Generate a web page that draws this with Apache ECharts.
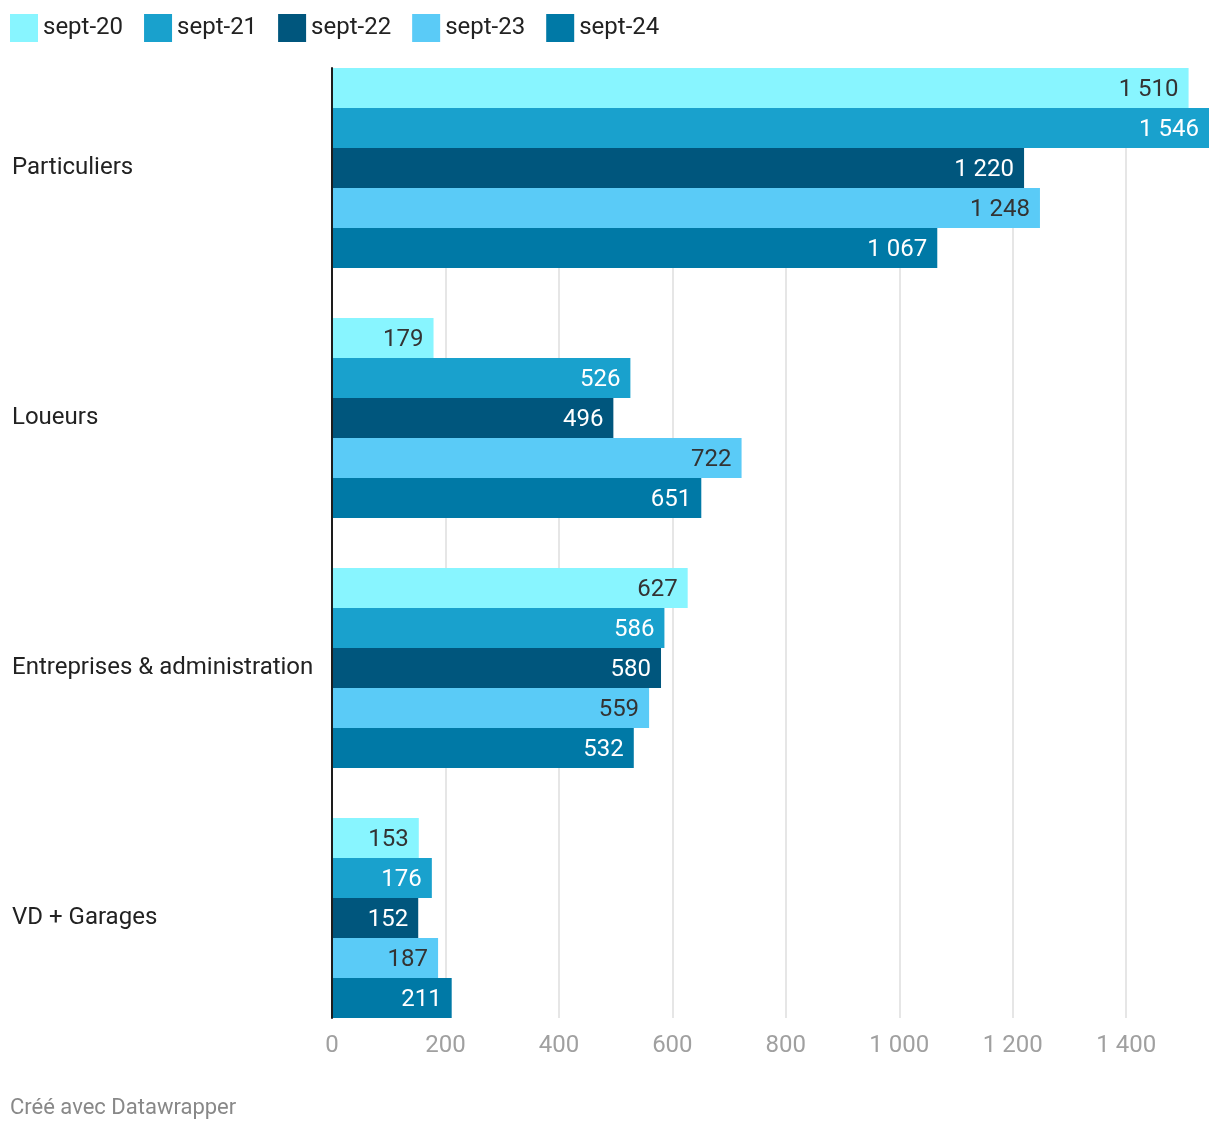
<!DOCTYPE html>
<html><head><meta charset="utf-8">
<script src="https://cdn.jsdelivr.net/npm/echarts@6/dist/echarts.min.js"></script>
<style>html,body{margin:0;padding:0;background:#fff}#c{width:1220px;height:1132px}</style>
</head><body><div id="c"></div>
<script>
const categories = ['Particuliers', 'Loueurs', 'Entreprises & administration', 'VD + Garages'];
const seriesNames = ['sept-20', 'sept-21', 'sept-22', 'sept-23', 'sept-24'];
const sept20 = [1510, 179, 627, 153];
const sept21 = [1546, 526, 586, 176];
const sept22 = [1220, 496, 580, 152];
const sept23 = [1248, 722, 559, 187];
const sept24 = [1067, 651, 532, 211];
const colors = ['#88f5ff', '#19a1cd', '#00567d', '#5acbf7', '#0079a6'];
const labelColors = ['#333333', '#ffffff', '#ffffff', '#333333', '#ffffff'];
const allValues = [sept20, sept21, sept22, sept23, sept24];

const fmt = v => String(v).replace(/\B(?=(\d{3})+(?!\d))/g, ' ');
const xMax = Math.max(...allValues.flat());
const FONT = 'Roboto';

const chart = echarts.init(document.getElementById('c'));
chart.setOption({
  animation: false,
  textStyle: { fontFamily: FONT },
  title: {
    text: 'Créé avec Datawrapper', left: 5, top: 1092,
    textStyle: { color: '#888888', fontSize: 22, fontWeight: 'normal', fontFamily: FONT }
  },
  legend: {
    top: 9, left: 5, itemWidth: 28, itemHeight: 28, itemGap: 21,
    icon: 'rect',
    textStyle: { fontSize: 24, color: '#222222', fontFamily: FONT },
    data: seriesNames
  },
  grid: [
    { left: 332, right: 11, top: 68, height: 950 },
    { left: 332, right: 11, top: 43, height: 1000 }
  ],
  xAxis: [
    {
      gridIndex: 0, type: 'value', min: 0, max: xMax, interval: 200,
      axisLine: { show: false }, axisTick: { show: false },
      splitLine: { show: true, showMaxLine: false, lineStyle: { color: '#e6e6e6', width: 2 } },
      axisLabel: { color: '#a0a0a0', fontSize: 24, margin: 16, showMaxLabel: false,
        formatter: v => (v % 200 === 0 ? fmt(v) : '') }
    },
    {
      gridIndex: 1, type: 'value', min: 0, max: xMax,
      show: false
    }
  ],
  yAxis: [
    {
      gridIndex: 0, type: 'category', data: [''], z: 10,
      axisLine: { show: true, lineStyle: { color: '#1d1d1d', width: 2 } },
      axisTick: { show: false }, axisLabel: { show: false }, splitLine: { show: false }
    },
    {
      gridIndex: 1, type: 'category', data: categories, inverse: true,
      axisLine: { show: false }, axisTick: { show: false },
      axisLabel: { color: '#222222', fontSize: 24, align: 'left', margin: 320, fontFamily: FONT,
        lineHeight: 24, padding: [6, 0, 0, 0] }
    }
  ],
  series: seriesNames.map((name, i) => ({
    name, type: 'bar', xAxisIndex: 1, yAxisIndex: 1,
    data: allValues[i],
    barGap: '0%', barCategoryGap: '20%',
    itemStyle: { color: colors[i] },
    label: {
      show: true, position: 'insideRight', distance: 10, offset: [0, 2],
      color: labelColors[i], fontSize: 24, fontFamily: FONT,
      formatter: p => fmt(p.value)
    }
  }))
});
</script></body></html>
